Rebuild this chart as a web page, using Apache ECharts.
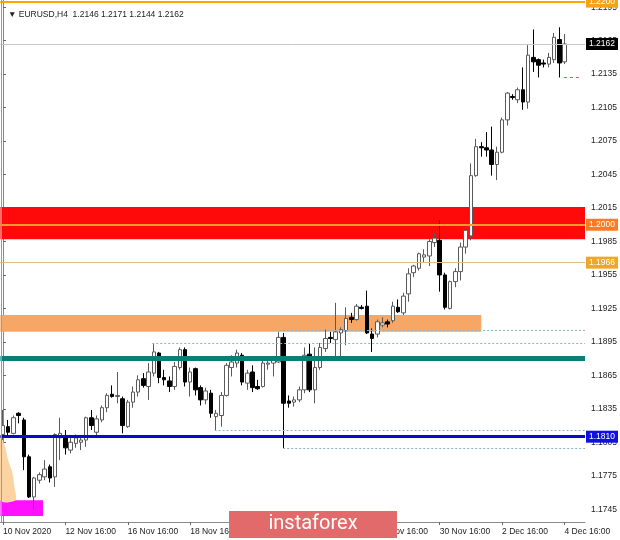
<!DOCTYPE html>
<html>
<head>
<meta charset="utf-8">
<script src="https://cdn.jsdelivr.net/npm/echarts@6/dist/echarts.min.js"></script>
<style>
html,body{margin:0;padding:0;background:#fff;}
#chart{width:620px;height:540px;}
</style>
</head>
<body>
<div id="chart"></div>
<script>
// ---- data (EURUSD H4, 10 Nov 2020 16:00 .. 4 Dec 2020 16:00) ----
const opens = [1.1812,1.1819,1.1813,1.1831,1.1825,1.1792,1.1756,1.1771,1.1774,1.1783,
1.1774,1.1809,1.1810,1.1798,1.1804,1.1805,1.1807,1.1827,1.1814,1.1825,
1.1836,1.1848,1.1846,1.1844,1.1819,1.1841,1.1850,1.1862,1.1855,1.1867,
1.1885,1.1863,1.1860,1.1855,1.1872,1.1888,1.1859,1.1871,1.1854,1.1843,
1.1849,1.1828,1.1829,1.1847,1.1872,1.1876,1.1883,1.1858,1.1868,1.1855,
1.1855,1.1875,1.1876,1.1877,1.1899,1.1842,1.1841,1.1843,1.1852,1.1884,
1.1852,1.1872,1.1889,1.1899,1.1897,1.1903,1.1905,1.1917,1.1915,1.1926,
1.1927,1.1902,1.1902,1.1910,1.1913,1.1914,1.1926,1.1921,1.1938,1.1957,
1.1961,1.1971,1.1972,1.1984,1.1986,1.1955,1.1925,1.1949,1.1958,1.1980,
1.1990,1.2044,1.2070,1.2069,1.2067,1.2054,1.2065,1.2094,1.2115,1.2112,
1.2121,1.2110,1.2150,1.2148,1.2145,1.2144,1.2148,1.2166,1.2146];
const highs = [1.1834,1.1825,1.1829,1.1832,1.1827,1.1794,1.1774,1.1778,1.1789,1.1785,
1.1813,1.1827,1.1816,1.1810,1.1812,1.1810,1.1828,1.1834,1.1829,1.1838,
1.1849,1.1856,1.1868,1.1846,1.1843,1.1855,1.1865,1.1867,1.1876,1.1893,
1.1886,1.1870,1.1864,1.1877,1.1890,1.1890,1.1872,1.1872,1.1856,1.1854,
1.1852,1.1834,1.1850,1.1876,1.1883,1.1888,1.1885,1.1870,1.1874,1.1861,
1.1879,1.1881,1.1881,1.1904,1.1903,1.1847,1.1846,1.1855,1.1890,1.1894,
1.1890,1.1894,1.1906,1.1904,1.1930,1.1908,1.1926,1.1921,1.1929,1.1928,
1.1941,1.1907,1.1915,1.1917,1.1915,1.1931,1.1933,1.1939,1.1961,1.1964,
1.1975,1.1978,1.1987,1.1993,1.2004,1.1957,1.1950,1.1961,1.1984,1.2004,
1.2055,1.2077,1.2074,1.2083,1.2088,1.2070,1.2096,1.2119,1.2117,1.2123,
1.2141,1.2161,1.2175,1.2149,1.2148,1.2154,1.2172,1.2177,1.2171];
const lows = [1.1807,1.1810,1.1812,1.1822,1.1780,1.1755,1.1745,1.1768,1.1771,1.1769,
1.1765,1.1789,1.1794,1.1795,1.1800,1.1798,1.1801,1.1816,1.1810,1.1823,
1.1832,1.1845,1.1840,1.1813,1.1818,1.1836,1.1846,1.1854,1.1843,1.1864,
1.1858,1.1856,1.1850,1.1852,1.1870,1.1855,1.1846,1.1847,1.1838,1.1839,
1.1827,1.1816,1.1819,1.1846,1.1864,1.1872,1.1856,1.1852,1.1850,1.1852,
1.1854,1.1870,1.1864,1.1876,1.1800,1.1836,1.1837,1.1841,1.1849,1.1850,
1.1840,1.1870,1.1886,1.1894,1.1881,1.1881,1.1892,1.1912,1.1914,1.1924,
1.1902,1.1886,1.1899,1.1908,1.1908,1.1912,1.1921,1.1919,1.1931,1.1953,
1.1959,1.1966,1.1963,1.1980,1.1940,1.1924,1.1924,1.1944,1.1950,1.1974,
1.1986,1.2043,1.2061,1.2061,1.2044,1.2040,1.2064,1.2089,1.2112,1.2109,
1.2103,1.2104,1.2137,1.2132,1.2141,1.2141,1.2145,1.2132,1.2144];
const closes = [1.1820,1.1814,1.1827,1.1829,1.1792,1.1756,1.1773,1.1776,1.1781,1.1773,
1.1812,1.1813,1.1800,1.1805,1.1809,1.1807,1.1827,1.1820,1.1826,1.1836,
1.1847,1.1846,1.1847,1.1820,1.1841,1.1850,1.1861,1.1856,1.1868,1.1886,
1.1863,1.1861,1.1855,1.1873,1.1888,1.1859,1.1868,1.1852,1.1843,1.1851,
1.1831,1.1831,1.1847,1.1874,1.1877,1.1885,1.1859,1.1867,1.1854,1.1853,
1.1876,1.1876,1.1879,1.1899,1.1840,1.1840,1.1843,1.1852,1.1883,1.1852,
1.1872,1.1890,1.1898,1.1898,1.1904,1.1906,1.1916,1.1915,1.1927,1.1925,
1.1903,1.1898,1.1913,1.1912,1.1911,1.1927,1.1922,1.1936,1.1956,1.1963,
1.1974,1.1973,1.1985,1.1988,1.1955,1.1926,1.1949,1.1958,1.1980,1.1995,
1.2044,1.2070,1.2069,1.2067,1.2054,1.2065,1.2094,1.2118,1.2114,1.2121,
1.2110,1.2152,1.2146,1.2143,1.2144,1.2150,1.2168,1.2145,1.2162];

const timeTickIndex = [0,12,24,36,48,60,72,84,96,108];
const timeTickLabels = ['10 Nov 2020','12 Nov 16:00','16 Nov 16:00','18 Nov 16:00','20 Nov 16:00',
  '24 Nov 16:00','26 Nov 16:00','30 Nov 16:00','2 Dec 16:00','4 Dec 16:00'];
const priceTicks = [1.1745,1.1775,1.1805,1.1835,1.1865,1.1895,1.1925,1.1955,1.1985,
  1.2015,1.2045,1.2075,1.2105,1.2135,1.2165,1.2195];

// levels and zones
const topLevel = 1.2200, bidLevel = 1.2162, level2000 = 1.2000, level1966 = 1.1966;
const tealLevel = 1.1880, blueLevel = 1.1810, stopLevel = 1.2132;
const redZone = [1.1987, 1.2016];
const sandZone = [1.1904, 1.1919], sandZoneEnd = 92;
const magentaBoxX = [-0.5, 7.7], magentaBoxY = [1.1739, 1.1753];
const dottedLevels = [1.1905, 1.1894, 1.1816, 1.1800];
const dottedStarts = [53.1, 28.7, 40.7, 53.9];
const peachX = [-0.5, 0.4, 1.0, 1.8, 2.2, 2.4, -0.5];
const peachY = [1.1810, 1.1801, 1.1789, 1.1778, 1.1765, 1.1753, 1.1753];

const X_MIN = -0.5, X_MAX = 111.95, Y_MIN = 1.173354, Y_MAX = 1.220145;
const FONT = 'Liberation Sans, Arial, sans-serif';

const candleData = opens.map((o, i) => [i, o, closes[i], lows[i], highs[i]]);

function boxLabel(text, bg) {
  return {show: true, position: 'end', distance: 1, formatter: text, color: '#fff',
    backgroundColor: bg, padding: [2, 3, 1, 3], fontSize: 8.5, fontFamily: FONT};
}

const markLines = [
  {yAxis: topLevel, lineStyle: {color: '#ffa500', width: 2, type: 'solid'}, label: boxLabel('1.2200', '#f7a21b')},
  {yAxis: bidLevel, lineStyle: {color: '#c8c8c8', width: 1, type: 'solid'}, label: boxLabel('1.2162', '#000000')},
  {yAxis: level2000, lineStyle: {color: '#ff9a2a', width: 2, type: 'solid'}, label: boxLabel('1.2000', '#ff7a22')},
  {yAxis: level1966, lineStyle: {color: '#d8c080', width: 1, type: 'solid'}, label: boxLabel('1.1966', '#f0a62a')},
  {yAxis: tealLevel, lineStyle: {color: '#0b7e78', width: 5, type: 'solid'}, label: {show: false}},
  {yAxis: blueLevel, lineStyle: {color: '#0a0ac8', width: 3, type: 'solid'}, label: boxLabel('1.1810', '#1010e0')}
];
dottedLevels.forEach((lv, k) => {
  markLines.push([
    {coord: [dottedStarts[k], lv], lineStyle: {color: '#8fb3c6', width: 1, type: [2, 2]}, label: {show: false}},
    {coord: [X_MAX, lv]}
  ]);
});
markLines.push([
  {coord: [107.9, stopLevel], lineStyle: {color: '#c06a6a', width: 1, type: [3, 3]}, label: {show: false}},
  {coord: [111.2, stopLevel]}
]);

const chart = echarts.init(document.getElementById('chart'), null, {renderer: 'canvas'});
chart.setOption({
  animation: false,
  backgroundColor: '#ffffff',
  title: {
    text: '\u25BC EURUSD,H4  1.2146 1.2171 1.2144 1.2162',
    left: 3, top: 5,
    textStyle: {fontSize: 8.5, fontWeight: 'normal', color: '#222', fontFamily: FONT}
  },
  grid: {left: 0, right: 33, top: 0, bottom: 18, show: false},
  xAxis: {
    type: 'value', min: X_MIN, max: X_MAX,
    axisLine: {show: true, lineStyle: {color: '#8a8a8a', width: 1}},
    axisTick: {show: true, customValues: timeTickIndex, length: 3, lineStyle: {color: '#666'}},
    axisLabel: {
      customValues: timeTickIndex, align: 'left', margin: 5, fontSize: 8.5, color: '#222', fontFamily: FONT,
      formatter: v => timeTickLabels[timeTickIndex.indexOf(Math.round(v))] || ''
    },
    splitLine: {show: false}
  },
  yAxis: {
    type: 'value', position: 'right', min: Y_MIN, max: Y_MAX, scale: true,
    axisLine: {show: true, lineStyle: {color: '#8a8a8a', width: 1}},
    axisTick: {show: true, customValues: priceTicks, length: 3, lineStyle: {color: '#666'}},
    axisLabel: {
      customValues: priceTicks, margin: 6, fontSize: 8.5, color: '#222', fontFamily: FONT,
      formatter: v => v.toFixed(4)
    },
    splitLine: {show: false}
  },
  series: [
    {
      type: 'custom', z: 1, silent: true,
      data: [0],
      renderItem: (params, api) => {
        const pts = peachX.map((x, i) => api.coord([x, peachY[i]]));
        return {type: 'polygon', shape: {points: pts, smooth: 0.3}, style: {fill: '#fcd4a4'}};
      }
    },
    {
      type: 'candlestick',
      z: 3,
      data: candleData,
      encode: {x: 0, y: [1, 2, 3, 4]},
      barWidth: 4,
      silent: true,
      itemStyle: {color: '#ffffff', color0: '#000000', borderColor: '#5a5a5a', borderColor0: '#000000', borderWidth: 1},
      markArea: {
        silent: true,
        z: 1,
        label: {show: false},
        data: [
          [{yAxis: redZone[0], itemStyle: {color: '#ff0a0a', opacity: 1}}, {yAxis: redZone[1]}],
          [{coord: [X_MIN, sandZone[0]], itemStyle: {color: '#f6a765', opacity: 1}}, {coord: [sandZoneEnd, sandZone[1]]}],
          [{coord: [magentaBoxX[0], magentaBoxY[0]], itemStyle: {color: '#ff10ff', opacity: 1}}, {coord: [magentaBoxX[1], magentaBoxY[1]]}]
        ]
      },
      markLine: {
        silent: true,
        precision: 6,
        symbol: ['none', 'none'],
        z: 5,
        data: markLines
      }
    }
  ],
  graphic: [
    {type: 'line', z: 50, shape: {x1: 1.5, y1: 0, x2: 1.5, y2: 522}, style: {stroke: '#9a9a9a', lineWidth: 1}},
    {type: 'rect', z: 100, shape: {x: 229, y: 511, width: 168, height: 27}, style: {fill: '#e26a6a'}},
    {type: 'text', z: 101, x: 313, y: 524, style: {text: 'instaforex', fill: '#ffffff', fontSize: 20,
      fontFamily: 'Roboto, sans-serif', align: 'center', verticalAlign: 'middle'}}
  ]
});
</script>
</body>
</html>
